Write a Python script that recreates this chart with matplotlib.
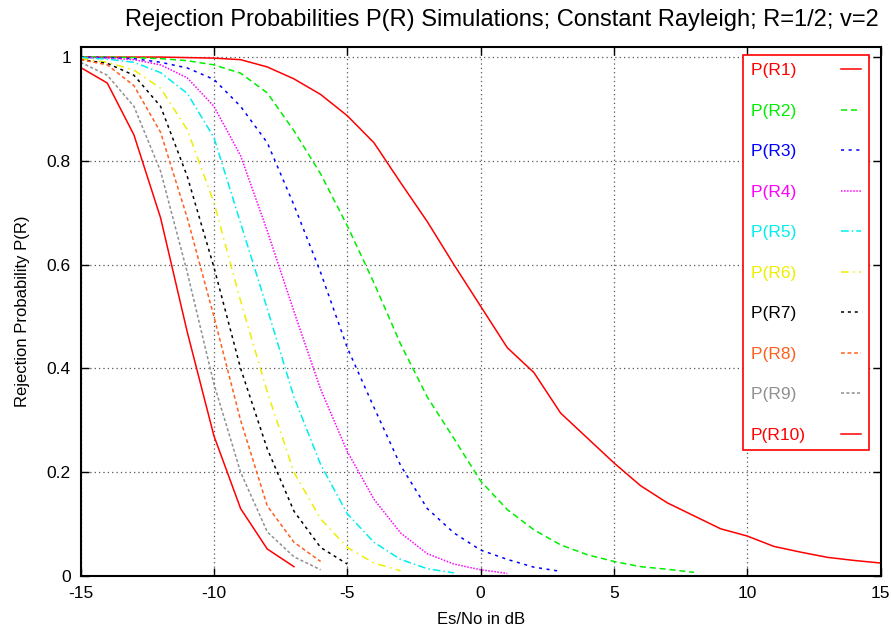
# Rejection probabilities P(R) vs Es/No (gnuplot-style chart, recreated)
import numpy as np
import matplotlib
matplotlib.use("Agg")
import matplotlib.pyplot as plt
from matplotlib.ticker import FuncFormatter

plt.rcParams["font.family"] = ["Liberation Sans", "DejaVu Sans"]
plt.rcParams["axes.unicode_minus"] = False

# ------------------------------------------------------------
# Data
# ------------------------------------------------------------
snr_r1 = list(range(-15, 16))
p_r1 = [1.0, 1.0, 1.0, 1.0, 0.999, 0.998, 0.995, 0.981, 0.958, 0.928, 0.887,
        0.835, 0.758, 0.683, 0.6, 0.52, 0.44, 0.392, 0.314, 0.266, 0.218,
        0.174, 0.141, 0.116, 0.091, 0.077, 0.057, 0.046, 0.036, 0.03, 0.025]

snr_r2 = list(range(-15, 9))
p_r2 = [1.0, 1.0, 0.999, 0.997, 0.993, 0.985, 0.969, 0.931, 0.858, 0.775,
        0.675, 0.565, 0.447, 0.345, 0.265, 0.183, 0.128, 0.089, 0.06, 0.041,
        0.028, 0.018, 0.013, 0.007]

snr_r3 = list(range(-15, 4))
p_r3 = [1.0, 0.999, 0.997, 0.99, 0.979, 0.957, 0.905, 0.835, 0.715, 0.585,
        0.44, 0.325, 0.213, 0.13, 0.083, 0.05, 0.032, 0.017, 0.009]

snr_r4 = list(range(-15, 2))
p_r4 = [0.999, 0.998, 0.995, 0.985, 0.96, 0.905, 0.81, 0.665, 0.51, 0.36,
        0.24, 0.148, 0.083, 0.043, 0.023, 0.012, 0.005]

snr_r5 = list(range(-15, 0))
p_r5 = [0.999, 0.996, 0.99, 0.97, 0.93, 0.845, 0.68, 0.515, 0.345, 0.215,
        0.12, 0.065, 0.032, 0.014, 0.006]

snr_r6 = list(range(-15, -2))
p_r6 = [0.997, 0.99, 0.975, 0.94, 0.86, 0.72, 0.53, 0.355, 0.2, 0.11,
        0.055, 0.025, 0.01]

snr_r7 = list(range(-15, -4))
p_r7 = [0.995, 0.988, 0.965, 0.905, 0.77, 0.595, 0.4, 0.245, 0.125, 0.055, 0.023]

snr_r8 = list(range(-15, -5))
p_r8 = [0.995, 0.985, 0.945, 0.855, 0.69, 0.5, 0.3, 0.135, 0.065, 0.028]

snr_r9 = list(range(-15, -5))
p_r9 = [0.99, 0.965, 0.905, 0.78, 0.585, 0.37, 0.2, 0.085, 0.037, 0.012]

snr_r10 = list(range(-15, -6))
p_r10 = [0.98, 0.95, 0.85, 0.69, 0.47, 0.27, 0.13, 0.052, 0.018]

labels = ["P(R1)", "P(R2)", "P(R3)", "P(R4)", "P(R5)",
          "P(R6)", "P(R7)", "P(R8)", "P(R9)", "P(R10)"]

x_ticks = [-15, -10, -5, 0, 5, 10, 15]
y_ticks = [0, 0.2, 0.4, 0.6, 0.8, 1.0]

# ------------------------------------------------------------
# Styles
# ------------------------------------------------------------
colors = ["#ff0000", "#00ee00", "#0000ff", "#ff00ff", "#00eeee",
          "#eeee00", "#000000", "#ff6020", "#909090", "#ff0000"]
styles = ["-", (0, (4, 2.5)), (0, (2, 3)), (0, (1, 1)), (0, (5, 2, 1, 2)),
          (0, (5, 3, 1, 3)), (0, (2, 2.5)), (0, (2.5, 1.8)), (0, (2, 1.5)), "-"]

series = [(snr_r1, p_r1), (snr_r2, p_r2), (snr_r3, p_r3), (snr_r4, p_r4),
          (snr_r5, p_r5), (snr_r6, p_r6), (snr_r7, p_r7), (snr_r8, p_r8),
          (snr_r9, p_r9), (snr_r10, p_r10)]

# pad the one-digit labels with a figure space so the legend texts line up left
longest = max(len(s) for s in labels)
legend_labels = [s + "\u2007" * (longest - len(s)) for s in labels]

# ------------------------------------------------------------
# Figure
# ------------------------------------------------------------
fig = plt.figure(figsize=(8.91, 6.33), dpi=100)
ax = fig.add_axes([80.6 / 891, (633 - 576) / 633, 800 / 891, 529.3 / 633])

for (x, y), lab, col, ls in zip(series, legend_labels, colors, styles):
    ax.plot(x, y, color=col, linestyle=ls, linewidth=1.1, label=lab)

ax.set_xlim(-15, 15)
ax.set_ylim(0, 1.02)
ax.set_xticks(x_ticks)
ax.set_yticks(y_ticks)
ax.yaxis.set_major_formatter(FuncFormatter(lambda v, _: f"{v:g}"))
ax.tick_params(direction="in", length=6, width=1, labelsize=12.5,
               top=True, right=True, pad=7)
for sp in ax.spines.values():
    sp.set_linewidth(1.5)

ax.grid(True, color="#555555", linestyle=(0, (1, 2.5)), linewidth=0.9)

ax.set_title("Rejection Probabilities P(R) Simulations; Constant Rayleigh; R=1/2; v=2",
             fontsize=17.0, pad=15, x=0.526)
ax.set_xlabel("Es/No in dB", fontsize=12, labelpad=8)
ax.set_ylabel("Rejection Probability P(R)", fontsize=12, labelpad=12)

leg = ax.legend(loc="upper left", bbox_to_anchor=(0.828, 0.984),
                borderaxespad=0, markerfirst=False, labelcolor="linecolor",
                fontsize=12.5, handlelength=1.2, handletextpad=2.0,
                labelspacing=1.46, borderpad=0.45, fancybox=False,
                framealpha=1, edgecolor="#ff0000")
leg.get_frame().set_linewidth(1.2)

fig.savefig("out.png", dpi=100)
